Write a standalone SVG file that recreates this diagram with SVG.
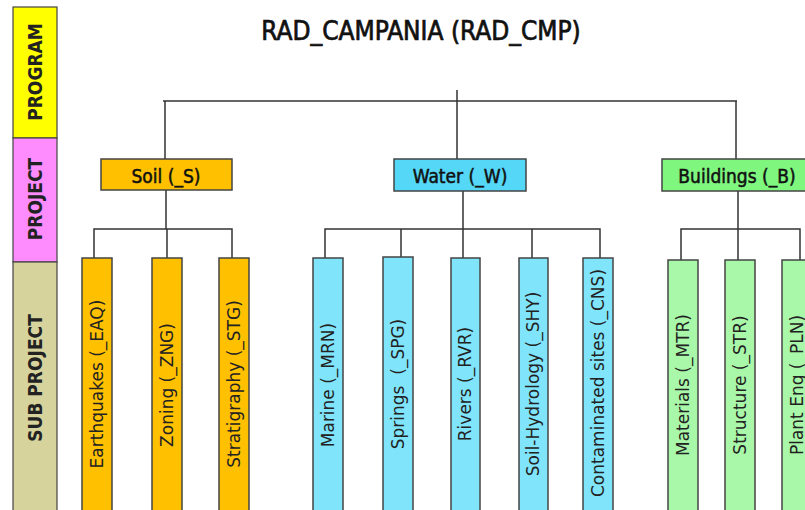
<svg xmlns="http://www.w3.org/2000/svg" width="805" height="510" viewBox="0 0 805 510">
  <style>
    .band { stroke: #444; stroke-width: 1.2; }
    .band-label { font-family: "DejaVu Sans Condensed", "DejaVu Sans", sans-serif; font-weight: bold; font-size: 19px; fill: #222; text-anchor: middle; }
    .title { font-family: "DejaVu Sans Condensed", "DejaVu Sans", sans-serif; font-size: 26px; fill: #111; stroke: #111; stroke-width: 0.7; text-anchor: middle; }
    .proj { stroke: #444; stroke-width: 1.5; }
    .proj-label { font-family: "DejaVu Sans Condensed", "DejaVu Sans", sans-serif; font-size: 19px; fill: #111; stroke: #111; stroke-width: 0.5; text-anchor: middle; }
    .sub { stroke: #444; stroke-width: 1.5; }
    .sub-label { font-family: "DejaVu Sans", sans-serif; font-size: 17px; fill: #222; text-anchor: middle; }
    .soil { fill: #FFC000; }
    .water { fill: #55D8F8; }
    .water-sub { fill: #80E5FB; }
    .bld { fill: #7FF77F; }
    .bld-sub { fill: #A9F8A9; }
    .links { fill: none; stroke: #333; stroke-width: 1.5; }
  </style>

  <!-- level bands on the left -->
  <g id="band-program">
    <rect class="band" x="13" y="7" width="44" height="131" fill="#FFFF00"/>
    <text class="band-label" transform="translate(42,72) rotate(-90)">PROGRAM</text>
  </g>
  <g id="band-project">
    <rect class="band" x="13" y="138" width="44" height="124" fill="#FF8CFF"/>
    <text class="band-label" transform="translate(42,199) rotate(-90)">PROJECT</text>
  </g>
  <g id="band-subproject">
    <rect class="band" x="13" y="262" width="44" height="255" fill="#D6D39C"/>
    <text class="band-label" transform="translate(42,378) rotate(-90)">SUB PROJECT</text>
  </g>

  <!-- program title -->
  <g id="program">
    <text class="title" x="421" y="40">RAD_CAMPANIA (RAD_CMP)</text>
  </g>

  <!-- connectors -->
  <g id="connectors" class="links">
    <path d="M457 90 V101"/>
    <path d="M163 101 H737"/>
    <path d="M165 101 V159 M457 101 V159 M736 101 V159"/>
    <!-- soil -->
    <path d="M166 190 V229 M94 258 V229 H232 V258 M167 229 V258"/>
    <!-- water -->
    <path d="M463 191 V229 M325 258 V229 H600 V258 M401 229 V257 M463 229 V258 M532 229 V258"/>
    <!-- buildings -->
    <path d="M738 191 V229 M681 260 V229 H800 V260 M738 229 V260"/>
  </g>

  <!-- projects -->
  <g id="soil">
    <rect class="proj soil" x="101" y="159" width="131" height="31"/>
    <text class="proj-label" x="166" y="183">Soil (_S)</text>
  </g>
  <g id="water">
    <rect class="proj water" x="394" y="159" width="132" height="32"/>
    <text class="proj-label" x="460" y="183">Water (_W)</text>
  </g>
  <g id="buildings">
    <rect class="proj bld" x="662" y="159" width="150" height="32"/>
    <text class="proj-label" x="737" y="183">Buildings (_B)</text>
  </g>

  <!-- soil sub projects -->
  <g id="eaq">
    <rect class="sub soil" x="82" y="258" width="30" height="260"/>
    <text class="sub-label" transform="translate(103,384) rotate(-90)">Earthquakes (_EAQ)</text>
  </g>
  <g id="zng">
    <rect class="sub soil" x="152" y="258" width="30" height="260"/>
    <text class="sub-label" transform="translate(173,385) rotate(-90)">Zoning (_ZNG)</text>
  </g>
  <g id="stg">
    <rect class="sub soil" x="219" y="258" width="30" height="260"/>
    <text class="sub-label" transform="translate(240,384) rotate(-90)">Stratigraphy (_STG)</text>
  </g>

  <!-- water sub projects -->
  <g id="mrn">
    <rect class="sub water-sub" x="313" y="258" width="30" height="260"/>
    <text class="sub-label" transform="translate(334,385) rotate(-90)">Marine (_MRN)</text>
  </g>
  <g id="spg">
    <rect class="sub water-sub" x="383" y="257" width="30" height="261"/>
    <text class="sub-label" transform="translate(404,384) rotate(-90)" xml:space="preserve">Springs  (_SPG)</text>
  </g>
  <g id="rvr">
    <rect class="sub water-sub" x="451" y="258" width="29" height="260"/>
    <text class="sub-label" transform="translate(471,384) rotate(-90)">Rivers (_RVR)</text>
  </g>
  <g id="shy">
    <rect class="sub water-sub" x="519" y="258" width="29" height="260"/>
    <text class="sub-label" transform="translate(539,384) rotate(-90)">Soil-Hydrology (_SHY)</text>
  </g>
  <g id="cns">
    <rect class="sub water-sub" x="583" y="258" width="30" height="260"/>
    <text class="sub-label" transform="translate(604,383) rotate(-90)">Contaminated sites (_CNS)</text>
  </g>

  <!-- buildings sub projects -->
  <g id="mtr">
    <rect class="sub bld-sub" x="668" y="260" width="30" height="258"/>
    <text class="sub-label" transform="translate(689,385) rotate(-90)">Materials (_MTR)</text>
  </g>
  <g id="str">
    <rect class="sub bld-sub" x="725" y="260" width="30" height="258"/>
    <text class="sub-label" transform="translate(746,385) rotate(-90)">Structure (_STR)</text>
  </g>
  <g id="pln">
    <rect class="sub bld-sub" x="782" y="260" width="30" height="258"/>
    <text class="sub-label" transform="translate(803,385) rotate(-90)">Plant Eng (_PLN)</text>
  </g>
</svg>
